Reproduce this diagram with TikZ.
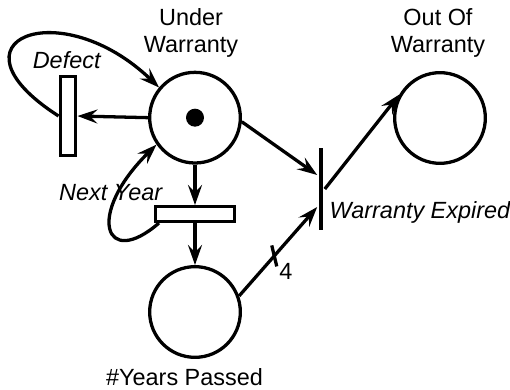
\documentclass[tikz,border=0pt]{standalone}
\usepackage{fontspec}
\setmainfont{Liberation Sans}
\usepackage{tikz}
\usetikzlibrary{positioning,arrows.meta}

\begin{document}
\begin{tikzpicture}[
  font=\fontsize{20}{22.5}\selectfont,
  line width=2.8pt,
  lugar/.style={draw, circle, minimum size=2.72cm, inner sep=0pt},
  trans/.style={draw, rectangle, inner sep=0pt},
  barra/.style={fill=black, rectangle, inner sep=0pt, minimum width=0.13cm, minimum height=2.46cm},
  flecha/.style={-{Stealth[length=0.6cm, width=0.42cm, inset=0.22cm]}},
  etiq/.style={inner sep=0pt, align=center},
  etiqit/.style={etiq, font=\fontsize{20}{22.5}\selectfont\itshape}
]
  \useasboundingbox (0,0) rectangle (15.3,-11.7);

  % --- lugares
  \node[lugar] (under) at (5.85,-3.53) {};
  \node[circle, fill=black, minimum size=0.54cm, inner sep=0pt] (token) at (under) {};
  \node[lugar] (years) at (5.85,-9.36) {};
  \node[lugar] (out) at (13.2,-3.54) {};
  \node[etiq] (under-lbl) at (5.73,-0.99) {Under\\Warranty};
  \node[etiq] (out-lbl) at (13.14,-0.99) {Out Of\\Warranty};
  \node[etiq] (years-lbl) at (5.535,-11.31) {\#Years Passed};

  % --- transiciones
  \node[trans, minimum width=0.47cm, minimum height=2.36cm] (defect) at (2.04,-3.48) {};
  \node[trans, minimum width=2.36cm, minimum height=0.44cm] (nextyear) at (5.85,-6.42) {};
  \node[barra] (expired) at (9.63,-5.67) {};
  \node[etiqit] (defect-lbl) at (2.0,-1.8) {Defect};
  \node[etiqit] (nextyear-lbl) at (3.32,-5.79) {Next Year};
  \node[etiqit, anchor=west] (expired-lbl) at (9.84,-6.36) {Warranty Expired};

  % --- arcos
  \draw[flecha] (under.west) -- (defect.east);
  \draw[flecha] (defect.west) .. controls (-1.8,-1.2) and (1.8,0.24) .. (under.140);
  \draw[flecha] (under.south) -- (nextyear.north);
  \draw[flecha] (nextyear.south) -- (years.north);
  \draw[flecha] (nextyear.194) .. controls (3.15,-8.1) and (2.55,-6.45) .. (under.215);

  \coordinate (exp-a) at ([yshift=0.42cm]expired.west);
  \coordinate (exp-b) at ([yshift=-0.54cm]expired.west);
  \draw[flecha] (under.-5) -- (exp-a);
  \draw[flecha] (years.20) -- (exp-b) coordinate[pos=0.45] (marca);
  \draw (marca) ++(-0.075,0.315) -- ++(0.15,-0.63);
  \node[etiq] (peso) at (8.58,-8.15) {4};
  \draw[flecha] (expired.east) -- (out.150);
\end{tikzpicture}
\end{document}
